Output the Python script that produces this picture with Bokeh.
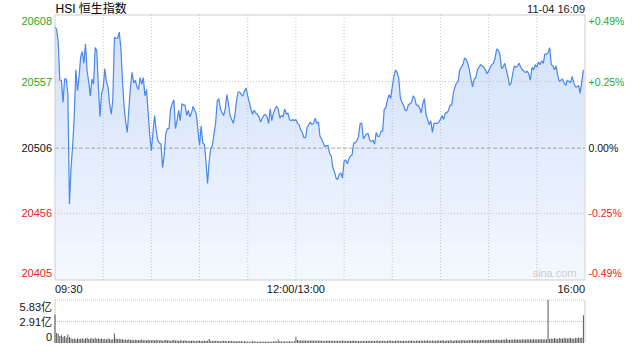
import numpy as np
from bokeh.plotting import figure
from bokeh.models import Range1d
from bokeh.core.properties import value
from bokeh.embed import file_html
from bokeh.resources import INLINE

# ---------------- data ----------------
title_text = "HSI 恒生指数"
date_text = "11-04 16:09"
price_ticks = [20608, 20557, 20506, 20456, 20405]
pct_labels = ["+0.49%", "+0.25%", "0.00%", "-0.25%", "-0.49%"]
time_labels = ["09:30", "12:00/13:00", "16:00"]
time_label_minutes = [0, 150, 330]
vol_ticks = [5.83, 2.91, 0]
vol_labels = ["5.83亿", "2.91亿", "0"]

prices_am = [
    20599, 20597, 20588, 20558, 20558, 20541, 20559, 20559, 20548, 20463,
    20491, 20508, 20531, 20566, 20550, 20561, 20576, 20580, 20571, 20586,
    20565, 20557, 20546, 20559, 20555, 20583, 20581, 20553, 20530, 20548,
    20552, 20567, 20557, 20553, 20540, 20532, 20543, 20591, 20590, 20590,
    20595, 20583, 20558, 20538, 20526, 20518, 20536, 20553, 20564, 20556,
    20558, 20553, 20551, 20560, 20555, 20560, 20546, 20551, 20533, 20516,
    20504, 20518, 20531, 20520, 20512, 20510, 20509, 20491, 20501, 20517,
    20521, 20521, 20536, 20540, 20543, 20521, 20527, 20535, 20527, 20540,
    20539, 20539, 20531, 20535, 20530, 20533, 20538, 20535, 20532, 20520,
    20508, 20523, 20510, 20509, 20496, 20479, 20496, 20506, 20508, 20517,
    20525, 20542, 20544, 20536, 20533, 20531, 20536, 20547, 20540, 20531,
    20528, 20525, 20531, 20542, 20549, 20549, 20547, 20546, 20550, 20552,
    20546, 20541, 20536, 20532, 20535, 20533, 20532, 20530, 20526, 20529,
    20531, 20532, 20530, 20525, 20536, 20527, 20533, 20536, 20538, 20536,
    20529, 20531, 20530, 20536, 20532, 20533, 20528, 20527, 20528, 20527,
    20528, 20525, 20524, 20520, 20518, 20514, 20514, 20522, 20524, 20526,
    20524, 20525, 20529, 20525, 20526,
]
prices_pm = [
    20515, 20513, 20510, 20507, 20508, 20508, 20502, 20500, 20491, 20488,
    20483, 20482, 20486, 20487, 20483, 20496, 20497, 20494, 20498, 20500,
    20501, 20510, 20510, 20512, 20515, 20525, 20525, 20513, 20515, 20517,
    20517, 20512, 20511, 20512, 20509, 20518, 20515, 20515, 20519, 20519,
    20536, 20537, 20543, 20547, 20544, 20553, 20561, 20566, 20564, 20560,
    20545, 20541, 20539, 20535, 20535, 20539, 20540, 20541, 20546, 20544,
    20539, 20539, 20537, 20533, 20540, 20544, 20532, 20528, 20524, 20527,
    20518, 20525, 20525, 20525, 20526, 20528, 20531, 20528, 20533, 20533,
    20535, 20539, 20539, 20548, 20553, 20556, 20557, 20566, 20568, 20570,
    20575, 20574, 20571, 20566, 20559, 20553, 20559, 20560, 20566, 20568,
    20570, 20569, 20568, 20566, 20563, 20565, 20568, 20570, 20571, 20575,
    20582, 20581, 20578, 20567, 20568, 20571, 20566, 20561, 20554, 20556,
    20563, 20569, 20568, 20569, 20571, 20568, 20566, 20565, 20564, 20565,
    20563, 20558, 20568, 20566, 20570, 20568, 20572, 20570, 20573, 20571,
    20578, 20578, 20579, 20583, 20570, 20569, 20566, 20569, 20562, 20557,
    20558, 20559, 20556, 20554, 20558, 20557, 20556, 20561, 20556, 20553,
    20553, 20554, 20548, 20557, 20566,
]
prices = prices_am + prices_pm

volumes = [
    3.85, 1.35, 1.25, 0.95, 1.05, 0.85, 0.95, 0.75, 1.15, 0.80,
    0.65, 0.55, 0.60, 0.50, 0.62, 0.55, 0.58, 0.66, 0.52, 0.60,
    0.70, 0.55, 0.62, 0.68, 0.50, 0.72, 0.58, 0.64, 0.55, 0.60,
    0.52, 0.58, 0.48, 0.62, 0.55, 0.45, 0.50, 1.30, 0.60, 0.55,
    0.58, 0.50, 0.52, 0.45, 0.48, 0.42, 0.50, 0.40, 0.44, 0.38,
    0.45, 0.40, 0.36, 0.42, 0.50, 0.38, 0.40, 0.35, 0.44, 0.38,
    0.36, 0.40, 0.34, 0.45, 0.38, 0.35, 0.40, 0.32, 0.36, 0.42,
    0.38, 0.34, 0.30, 0.36, 0.40, 0.33, 0.35, 0.30, 0.38, 0.34,
    0.30, 0.36, 0.32, 0.28, 0.34, 0.30, 0.35, 0.28, 0.32, 0.30,
    0.34, 0.28, 0.30, 0.33, 0.27, 0.30, 0.55, 0.32, 0.28, 0.30,
    0.26, 0.30, 0.28, 0.25, 0.32, 0.27, 0.30, 0.24, 0.28, 0.26,
    0.30, 0.25, 0.28, 0.22, 0.26, 0.24, 0.28, 0.22, 0.25, 0.20,
    0.22, 0.18, 0.20, 0.24, 0.19, 0.21, 0.17, 0.20, 0.22, 0.18,
    0.20, 0.17, 0.22, 0.19, 0.18, 0.21, 0.20, 0.24, 0.22, 0.48,
    0.25, 0.22, 0.20, 0.24, 0.21, 0.19, 0.23, 0.20, 0.22, 0.25,
    0.85, 0.40, 0.35, 0.38, 0.32, 0.36, 0.34, 0.30, 0.35, 0.32,
    0.36, 0.30, 0.33, 0.31, 0.35, 0.30, 0.34, 0.28, 0.32, 0.30,
    0.33, 0.29, 0.31, 0.34, 0.28, 0.30, 0.32, 0.27, 0.30, 0.33,
    0.30, 0.28, 0.32, 0.29, 0.27, 0.31, 0.34, 0.28, 0.30, 0.26,
    0.28, 0.31, 0.27, 0.30, 0.26, 0.29, 0.32, 0.27, 0.30, 0.28,
    0.30, 0.35, 0.28, 0.32, 0.29, 0.31, 0.27, 0.30, 0.33, 0.29,
    0.31, 0.28, 0.30, 0.34, 0.29, 0.32, 0.28, 0.31, 0.27, 0.30,
    0.32, 0.29, 0.34, 0.30, 0.28, 0.33, 0.31, 0.29, 0.35, 0.30,
    0.33, 0.30, 0.36, 0.31, 0.29, 0.34, 0.32, 0.30, 0.35, 0.33,
    0.31, 0.36, 0.33, 0.30, 0.35, 0.32, 0.38, 0.34, 0.31, 0.36,
    0.34, 0.38, 0.33, 0.36, 0.40, 0.35, 0.37, 0.34, 0.39, 0.36,
    0.40, 0.37, 0.42, 0.38, 0.36, 0.41, 0.39, 0.44, 0.38, 0.42,
    0.40, 0.45, 0.41, 0.43, 0.39, 0.46, 0.42, 0.44, 0.40, 0.47,
    0.43, 0.62, 0.45, 0.42, 0.48, 0.44, 0.46, 0.50, 0.43, 0.47,
    0.45, 0.50, 0.46, 0.48, 0.52, 0.47, 0.50, 0.45, 0.53, 0.49,
    0.51, 0.48, 0.54, 0.50, 0.46, 0.52, 0.49, 5.83, 0.55, 0.62,
    0.58, 0.65, 0.60, 0.55, 0.68, 0.62, 0.58, 0.70, 0.64, 0.60,
    0.66, 0.72, 0.62, 0.58, 0.70, 0.65, 0.75, 0.68, 0.72, 3.75,
]

# ---------------- layout (canvas pixel geometry) ----------------
W, H = 624, 344
TOTAL_MIN = 330
FX0, FX1 = 54.5, 584.5          # frame left / right
PY0, PY1 = 14.5, 279.5          # price frame top / bottom
VY0, VY1 = 299.5, 342.5         # volume frame top / bottom
PMAX, PMIN = max(price_ticks), min(price_ticks)
VMAX = max(vol_ticks)

pxm = (FX1 - FX0) / TOTAL_MIN
ps = (PY1 - PY0) / (PMAX - PMIN)
vs = (VY1 - VY0) / VMAX

def xd(px):
    return (px - FX0) / pxm

def yd(py):
    return PMAX - (py - PY0) / ps

def vd(py):
    return VMAX - (py - VY0) / vs

p = figure(width=W, height=H, output_backend="svg", toolbar_location=None,
           x_range=Range1d(xd(0), xd(W)), y_range=Range1d(yd(H), yd(0)),
           x_axis_location=None, y_axis_location=None, min_border=0,
           outline_line_color=None, background_fill_color="white",
           border_fill_color="white")
p.extra_y_ranges = {"vol": Range1d(vd(H), vd(0))}
p.grid.visible = False

FONT = value("Liberation Sans, Noto Sans CJK SC")
mins = np.arange(len(prices))
pr = np.array(prices, dtype=float)

# gradient fill under the price line (painter's bands)
top_c = np.array([208, 223, 250])
bot_c = np.array([244, 248, 254])
N = 28
levels = np.linspace(PMIN, PMAX, N + 1)
for k in range(N - 1, -1, -1):
    t = (k + 0.5) / N
    c = bot_c + (top_c - bot_c) * t
    col = "#%02x%02x%02x" % tuple(int(round(v)) for v in c)
    p.varea(x=mins, y1=PMIN, y2=np.minimum(pr, levels[k + 1]), fill_color=col)

# grid
grid_min = list(range(30, TOTAL_MIN, 30))
p.segment(x0=grid_min, x1=grid_min, y0=PMIN, y1=PMAX, line_color="#c4c4c4",
          line_width=1, line_dash="1 2")
mid_tick = price_ticks[2]
other = [t for t in price_ticks[1:-1] if t != mid_tick]
p.segment(x0=0, x1=TOTAL_MIN, y0=other, y1=other, line_color="#c4c4c4",
          line_width=1, line_dash="1 2")
p.segment(x0=[0], x1=[TOTAL_MIN], y0=[mid_tick], y1=[mid_tick],
          line_color="#a8a8a8", line_width=1, line_dash="4 2")

# price line
p.line(mins, pr, line_color="#4a88ec", line_width=1.2)

# frame
p.quad(left=[0], right=[TOTAL_MIN], bottom=[PMIN], top=[PMAX],
       fill_color=None, line_color="#cdcdcd", line_width=1)

# watermark
p.text(x=[xd(576)], y=[yd(PY1 - 7.5)], text=["sina.com"], text_font=FONT,
       text_font_size="11px", text_color="#cccccc", text_align="right",
       text_baseline="middle")

# price labels
lab_y = [yd(PY0 + 6)] + [float(t) for t in price_ticks[1:-1]] + [yd(PY1 - 7)]
cols = ["#1fa91f", "#1fa91f", "#111111", "#ee2020", "#ee2020"]
p.text(x=[xd(51.5)] * 5, y=lab_y, text=[str(t) for t in price_ticks],
       text_font=FONT, text_font_size="11px", text_color=cols,
       text_align="right", text_baseline="middle")
p.text(x=[xd(588)] * 5, y=lab_y, text=pct_labels, text_font=FONT,
       text_font_size="10.5px", text_color=cols, text_align="left",
       text_baseline="middle")

# title / date
p.text(x=[xd(55)], y=[yd(8)], text=[title_text], text_font=FONT,
       text_font_size="12px", text_color="#000000", text_align="left",
       text_baseline="middle")
p.text(x=[TOTAL_MIN], y=[yd(8)], text=[date_text], text_font=FONT,
       text_font_size="11px", text_color="#222222", text_align="right",
       text_baseline="middle")

# time labels
p.text(x=time_label_minutes, y=[yd(PY1 + 9)] * 3, text=time_labels,
       text_font=FONT, text_font_size="11px", text_color="#111111",
       text_align=["left", "center", "right"], text_baseline="middle")

# volume panel
p.segment(x0=[0, TOTAL_MIN], x1=[0, TOTAL_MIN], y0=[0, 0], y1=[VMAX, VMAX],
          line_color="#cdcdcd", line_width=1, y_range_name="vol")
p.segment(x0=0, x1=TOTAL_MIN, y0=vol_ticks[:2], y1=vol_ticks[:2],
          line_color="#c0c0c0", line_width=1, line_dash="1 1",
          y_range_name="vol")
p.vbar(x=np.arange(len(volumes)), top=volumes, bottom=0, width=0.62,
       fill_color="#555555", line_color=None, y_range_name="vol")
vlab_y = [vd(VY0 + 7), vol_ticks[1], vd(VY1 - 6)]
p.text(x=[xd(51.5)] * 3, y=vlab_y, text=vol_labels, text_font=FONT,
       text_font_size="11px", text_color="#111111", text_align="right",
       text_baseline="middle", y_range_name="vol")

open("out.html", "w").write(file_html(p, INLINE))
